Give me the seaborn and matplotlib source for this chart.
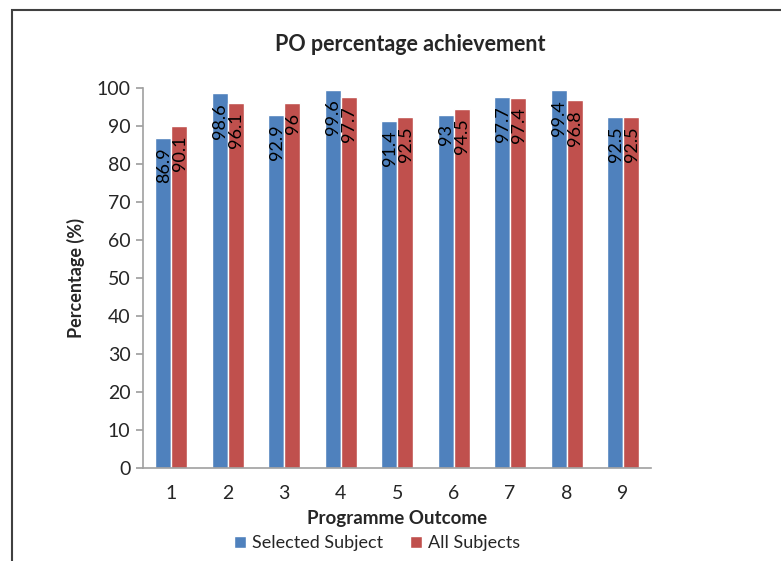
import matplotlib
matplotlib.use("Agg")
import matplotlib.pyplot as plt
import seaborn as sns
import pandas as pd
from matplotlib.patches import Rectangle

outcomes = ["1", "2", "3", "4", "5", "6", "7", "8", "9"]
selected_subject = [86.9, 98.6, 92.9, 99.6, 91.4, 93, 97.7, 99.4, 92.5]
all_subjects = [90.1, 96.1, 96, 97.7, 92.5, 94.5, 97.4, 96.8, 92.5]
series_names = ["Selected Subject", "All Subjects"]
colors = ["#4F81BD", "#C0504D"]

df = pd.DataFrame({
    "Programme Outcome": outcomes * 2,
    "Percentage": selected_subject + all_subjects,
    "Series": [series_names[0]] * len(outcomes) + [series_names[1]] * len(outcomes),
})

sns.set_theme(style="white")
plt.rcParams['font.family'] = ['Lato', 'DejaVu Sans']

fig = plt.figure(figsize=(7.81, 5.61), dpi=100)
ax = fig.add_axes([0.183, 0.166, 0.651, 0.677])

sns.barplot(data=df, x="Programme Outcome", y="Percentage", hue="Series",
            palette=colors, width=0.57, saturation=1, ax=ax, legend=True)

for cont in ax.containers:
    for bar, v in zip(cont.patches, cont.datavalues):
        ax.annotate("%g" % v, xy=(bar.get_x() + bar.get_width() / 2, bar.get_height()),
                    xytext=(0.5, -7), textcoords="offset points", rotation=90,
                    ha="center", va="top", fontsize=13, color="black")

ax.set_ylim(0, 100)
ax.set_xlim(-0.5, 8.5)
ax.set_yticks(range(0, 101, 10))
ax.tick_params(axis="y", labelsize=14, length=5, color="#A0A0A0", left=True, pad=4)
ax.tick_params(axis="x", labelsize=14, length=0, pad=12)
for s in ["top", "right"]:
    ax.spines[s].set_visible(False)
for s in ["left", "bottom"]:
    ax.spines[s].set_color("#A0A0A0")
    ax.spines[s].set_linewidth(1.2)

ax.set_xlabel("Programme Outcome", fontsize=13.5, fontweight="bold", labelpad=6)
ax.set_ylabel("Percentage (%)", fontsize=13, fontweight="bold", labelpad=8)
fig.suptitle("PO percentage achievement", x=0.525, y=0.94, fontsize=15.5, fontweight="bold")

ax.legend(loc="upper center", bbox_to_anchor=(0.46, -0.135), ncol=2, frameon=False,
          fontsize=13, handlelength=0.7, handleheight=0.7, handletextpad=0.3,
          columnspacing=1.5)

fig.patches.append(Rectangle((0.015, -0.05), 1.1, 1.032, transform=fig.transFigure,
                             fill=False, edgecolor="#404040", linewidth=1.5))

fig.savefig("out.png", dpi=100)
